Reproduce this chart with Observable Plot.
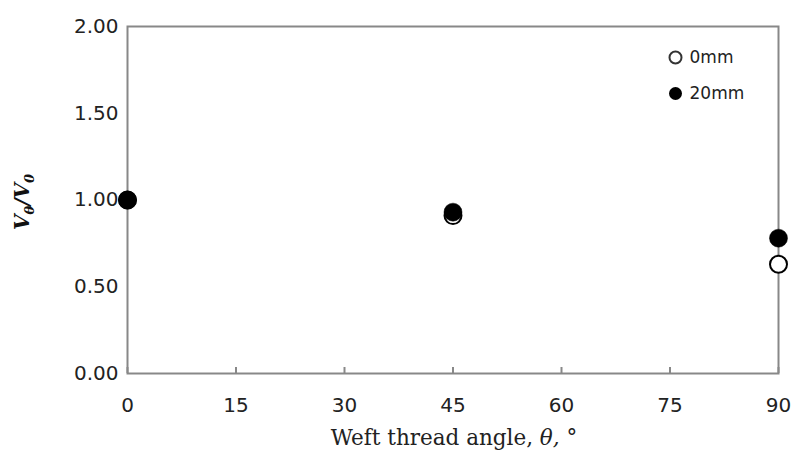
<!DOCTYPE html>
<html>
<head>
<meta charset="utf-8">
<script src="https://cdn.jsdelivr.net/npm/d3@7"></script>
<script src="https://cdn.jsdelivr.net/npm/@observablehq/plot@0.6"></script>
<style>
  html, body { margin: 0; padding: 0; background: #fff; }
</style>
</head>
<body>
<div id="chart"></div>
<script>
const angles = [0, 45, 90];
const ratio0mm = [1.00, 0.91, 0.63];
const ratio20mm = [1.00, 0.93, 0.78];
const xTicks = [0, 15, 30, 45, 60, 75, 90];
const yTicks = [0, 0.5, 1.0, 1.5, 2.0];
const seriesNames = ["0mm", "20mm"];

const data0 = angles.map((a, i) => ({angle: a, ratio: ratio0mm[i]}));
const data20 = angles.map((a, i) => ({angle: a, ratio: ratio20mm[i]}));

const W = 793, H = 454;
const mL = 127, mR = 15, mT = 26, mB = 81;

const plot = Plot.plot({
  width: W,
  height: H,
  marginLeft: mL,
  marginRight: mR,
  marginTop: mT,
  marginBottom: mB,
  style: {fontFamily: "DejaVu Sans", fontSize: "20px", color: "#222", background: "#fff"},
  x: {domain: [0, 90], ticks: xTicks},
  y: {domain: [0, 2], ticks: yTicks},
  marks: [
    Plot.frame({stroke: "#888", strokeWidth: 2}),
    Plot.axisX(xTicks, {tickSize: -6, stroke: "#888", strokeWidth: 2, tickFormat: () => "", label: null}),
    Plot.axisX(xTicks, {tickSize: 0, tickPadding: 24, tickFormat: d => String(d), label: null, fill: "#222"}),
    Plot.axisY(yTicks, {tickSize: 0, tickPadding: 9, tickFormat: d3.format(".2f"), label: null, fill: "#222"}),
    Plot.dot(data0, {x: "angle", y: "ratio", r: 8.5, fill: "white", stroke: "black", strokeWidth: 2}),
    Plot.dot(data20, {x: "angle", y: "ratio", r: 9, fill: "black", stroke: "black", strokeWidth: 0.5}),
    // legend
    Plot.dot([seriesNames[0]], {frameAnchor: "top-right", dx: -103, dy: 31, r: 6, fill: "white", stroke: "#333", strokeWidth: 2}),
    Plot.dot([seriesNames[1]], {frameAnchor: "top-right", dx: -103, dy: 67, r: 6.5, fill: "black"}),
    Plot.text([seriesNames[0]], {frameAnchor: "top-right", dx: -89, dy: 31, text: d => d, textAnchor: "start", lineAnchor: "middle", fontSize: 17, fill: "#222"}),
    Plot.text([seriesNames[1]], {frameAnchor: "top-right", dx: -89, dy: 67, text: d => d, textAnchor: "start", lineAnchor: "middle", fontSize: 17, fill: "#222"})
  ]
});

document.getElementById("chart").appendChild(plot);

// Axis titles with rich formatting (subscripts / italics)
const svg = d3.select(plot);
const xt = svg.append("text")
  .attr("x", 454)
  .attr("y", 445)
  .attr("text-anchor", "middle")
  .attr("font-family", "DejaVu Serif")
  .attr("font-size", 21.5)
  .attr("fill", "#222");
xt.append("tspan").text("Weft thread angle, ");
xt.append("tspan").attr("font-style", "italic").text("θ,");
xt.append("tspan").text(" °");

const yt = svg.append("text")
  .attr("transform", "translate(29,202) rotate(-90)")
  .attr("text-anchor", "middle")
  .attr("font-family", "DejaVu Serif")
  .attr("font-style", "italic")
  .attr("font-weight", "bold")
  .attr("font-size", 20)
  .attr("fill", "#111");
yt.append("tspan").text("V");
yt.append("tspan").attr("font-size", 13).attr("dy", 5).text("θ");
yt.append("tspan").attr("dy", -5).text("/V");
yt.append("tspan").attr("font-size", 13).attr("dy", 5).text("0");
</script>
</body>
</html>
